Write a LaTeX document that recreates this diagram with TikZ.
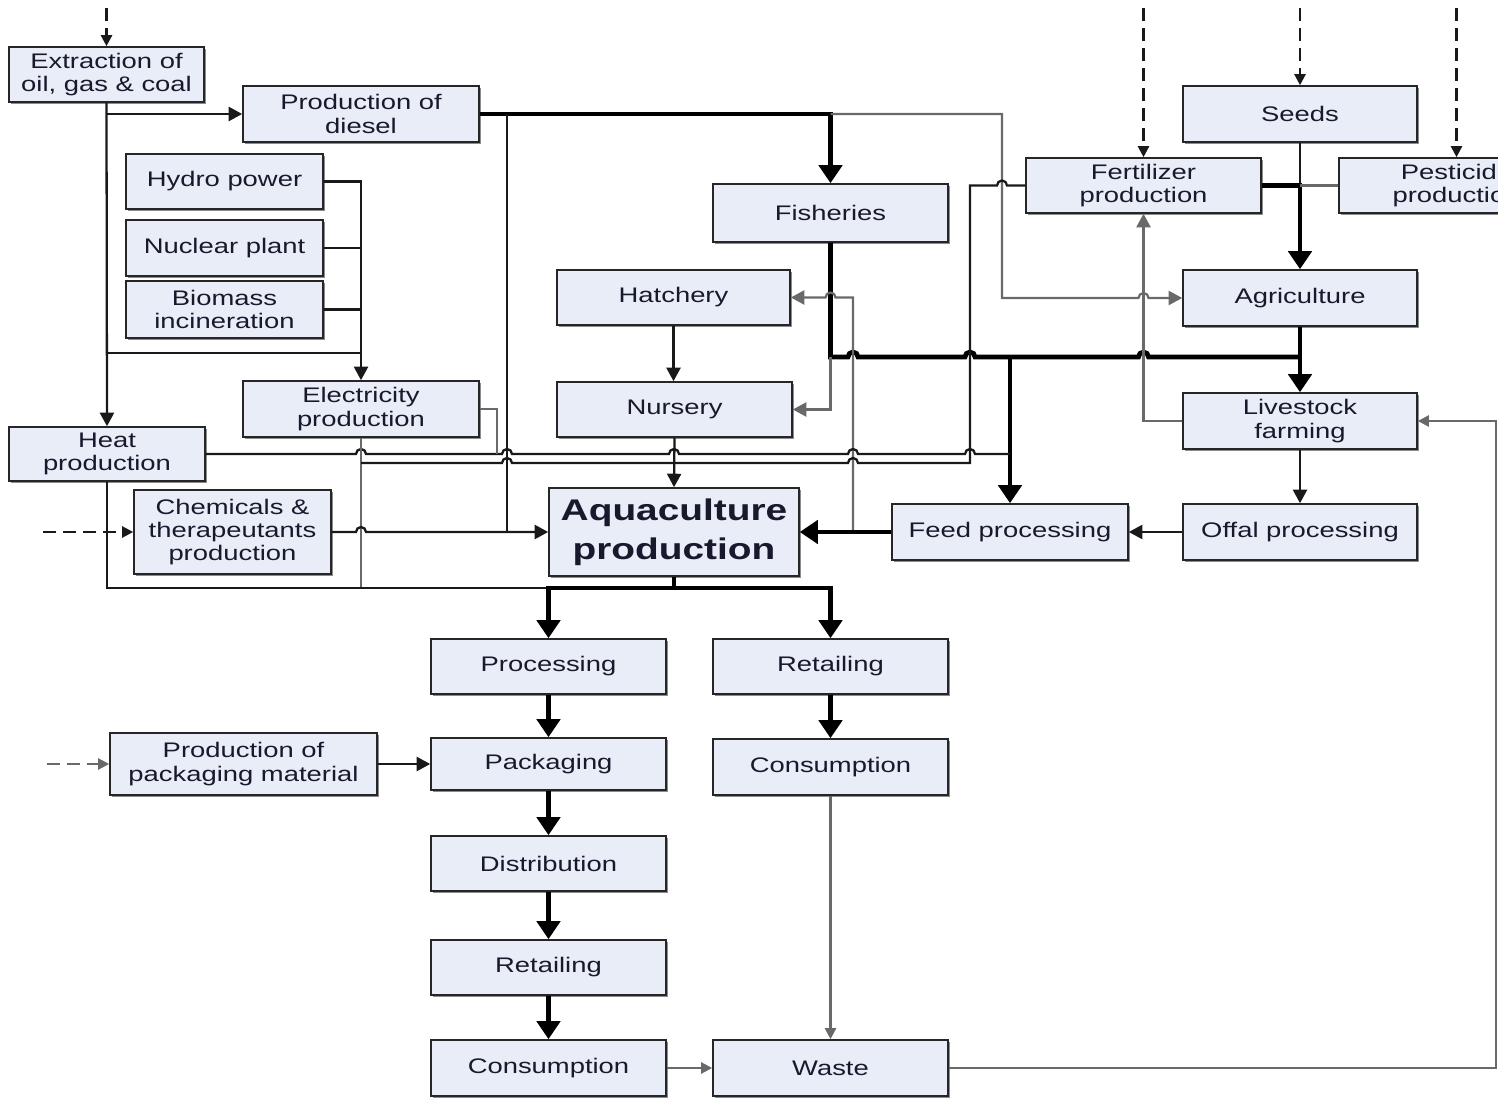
\documentclass[tikz,border=0pt]{standalone}
\usepackage{fontspec}
\setmainfont{Liberation Sans}[FakeStretch=1.3]
\usetikzlibrary{arrows.meta,shadows}
\definecolor{boxfill}{RGB}{232,237,248}
\definecolor{txt}{RGB}{25,25,45}
\definecolor{ln}{RGB}{25,25,25}
\definecolor{gln}{RGB}{105,105,105}
\tikzset{
 box/.style={draw=black!85, line width=0.9pt, fill=boxfill, text=txt, align=center, inner sep=0pt,
   font=\fontsize{12}{13.3}\selectfont,
   drop shadow={shadow xshift=0.045cm, shadow yshift=-0.045cm, fill=black!45, opacity=1}},
 thk/.style={draw=black, line width=2.7pt},
 med/.style={draw=ln, line width=1.3pt},
 thn/.style={draw=gln, line width=1.25pt},
 tA/.style={-{Triangle[length=0.36cm,width=0.46cm]}},
 mA/.style={-{Triangle[length=0.27cm,width=0.28cm]}},
 sA/.style={-{Triangle[length=0.22cm,width=0.22cm]}},
 dsh/.style={dash pattern=on 0.26cm off 0.14cm}
}
\newcommand\bx[7][]{\node[box,#1,minimum width={(#5-#3)*0.02cm},minimum height={(#6-#4)*0.02cm}] (#2) at ({(#3+#5)/2},{(#4+#6)/2}) {#7};}
\newcommand\hr[2]{-- (#1-5,#2) arc[start angle=180,end angle=0,radius=0.1cm]}
\newcommand\hl[2]{-- (#1+5,#2) arc[start angle=0,end angle=180,radius=0.1cm]}
\begin{document}
\begin{tikzpicture}[x=0.02cm,y=-0.02cm]
\useasboundingbox (0,0) rectangle (1498,1098);
\clip (0,0) rectangle (1498,1098);
% boxes
\bx{ext}{9}{47}{204}{102}{Extraction of\\oil, gas \& coal}
\bx{diesel}{243}{86}{479}{142}{Production of\\diesel}
\bx{hydro}{126}{154}{323}{209}{Hydro power}
\bx{nuc}{126}{220}{323}{276}{Nuclear plant}
\bx{bio}{126}{281}{323}{338}{Biomass\\incineration}
\bx{elec}{243}{381}{479}{437}{Electricity\\production}
\bx{heat}{9}{427}{205}{481}{Heat\\production}
\bx{chem}{134}{490}{331}{574}{Chemicals \&\\therapeutants\\production}
\bx{fish}{713}{184}{948}{242}{Fisheries}
\bx{hatch}{557}{270}{790}{325}{Hatchery}
\bx{nurs}{557}{382}{792}{437}{Nursery}
\bx[font={\fontsize{17}{22}\selectfont\bfseries}]{aqua}{549}{488}{799}{576}{Aquaculture\\production}
\bx{feed}{892}{504}{1128}{560}{Feed processing}
\bx{offal}{1183}{504}{1417}{560}{Offal processing}
\bx{seeds}{1183}{86}{1417}{142}{Seeds}
\bx{fert}{1026}{158}{1261}{213}{Fertilizer\\production}
\bx{pest}{1339}{158}{1574}{213}{Pesticide\\production}
\bx{agri}{1183}{270}{1417}{326}{Agriculture}
\bx{live}{1183}{393}{1417}{449}{Livestock\\farming}
\bx{proc}{431}{639}{666}{694}{Processing}
\bx{retR}{713}{639}{948}{694}{Retailing}
\bx{pack}{431}{738}{666}{790}{Packaging}
\bx{consR}{713}{739}{948}{795}{Consumption}
\bx{pkmat}{110}{733}{377}{795}{Production of\\packaging material}
\bx{dist}{431}{836}{666}{891}{Distribution}
\bx{retL}{431}{940}{666}{995}{Retailing}
\bx{consL}{431}{1040}{666}{1096}{Consumption}
\bx{waste}{713}{1040}{948}{1096}{Waste}
% free ends
\coordinate (inExt) at (106.5,8);
\coordinate (inFert) at (1143.5,8);
\coordinate (inSeed) at (1300,8);
\coordinate (inPest) at (1456.5,8);
\coordinate (inChem) at (43,532);
\coordinate (inPk) at (47,764);
% energy
\draw[med,dsh,sA] (inExt) -- (ext.north);
\draw[med,mA] (ext.south) -- (heat.north);
\draw[med,mA] (106.5,114) -- (diesel.west);
\draw[med] (106.5,353) -- (361,353);
\draw[med,mA] (hydro.east) -| (elec.north);
\draw[med] (nuc.east) -- (361,248);
\draw[med] (bio.east) -- (361,309.5);
% diesel
\draw[thk,tA] (diesel.east) -| (fish.north);
\draw[med] (507,114) -- (507,532);
\draw[thn,mA] (830.5,114) -- (1002,114) -- (1002,298) \hr{1143.5}{298} -- (agri.west);
% fisheries & feed lines
\draw[thk] (fish.south) -- (830.5,357) \hr{853}{357} \hr{970}{357} \hr{1143.5}{357} -- (1300,357);
\draw[thk,tA] (1010,357) -- (feed.north);
\draw[thk,tA] (agri.south) -- (live.north);
\draw[thn,mA] (830.5,357) -- (830.5,409.5) -- (nurs.east);
\draw[thn,mA] (853,532) -- (853,297.5) \hl{830.5}{297.5} -- (hatch.east);
\draw[med,mA] (hatch.south) -- (hatch.south |- nurs.north);
\draw[med,mA] (nurs.south) -- (aqua.north);
% heat and electricity distribution
\draw[med] (heat.east) \hr{361}{454} -- (497,454) \hr{507}{454} \hr{674}{454} \hr{853}{454} \hr{970}{454} -- (1010,454);
\draw[thn] (elec.south) -- (361,588);
\draw[thn] (elec.east) -- (497,409) -- (497,454);
\draw[med] (361,463) \hr{507}{463} -- (674,463) \hr{853}{463} -- (970,463) -- (970,185.5) \hr{1002}{185.5} -- (fert.west);
% chemicals
\draw[med,dsh,sA] (inChem) -- (chem.west);
\draw[med,mA] (chem.east) \hr{361}{532} -- (aqua.west);
% bottom of aquaculture
\draw[med] (heat.south) -- (107,588) -- (549,588);
\draw[thk] (aqua.south) -- (674,588);
\draw[thk,tA] (674,588) -| (proc.north);
\draw[thk,tA] (674,588) -| (retR.north);
\draw[thk,tA] (feed.west) -- (aqua.east);
% agriculture side
\draw[med,dsh,sA] (inSeed) -- (seeds.north);
\draw[med,dsh,sA] (inFert) -- (fert.north);
\draw[med,dsh,sA] (inPest) -- (pest.north);
\draw[med] (seeds.south) -- (1300,185.5);
\draw[thk,tA] (fert.east) -| (agri.north);
\draw[thn] (pest.west) -- (1300,185.5);
\draw[thn,mA] (live.west) -- (1143.5,421) -- (fert.south);
\draw[med,mA] (live.south) -- (offal.north);
\draw[med,mA] (offal.west) -- (feed.east);
% chain
\draw[thk,tA] (proc.south) -- (pack.north);
\draw[thk,tA] (pack.south) -- (dist.north);
\draw[thk,tA] (dist.south) -- (retL.north);
\draw[thk,tA] (retL.south) -- (consL.north);
\draw[thk,tA] (retR.south) -- (consR.north);
\draw[med,mA] (pkmat.east) -- (pack.west);
\draw[thn,dsh,sA] (inPk) -- (pkmat.west);
\draw[thn,sA] (consR.south) -- (waste.north);
\draw[thn,sA] (consL.east) -- (waste.west);
\draw[thn,sA] (waste.east) -- (1496,1068) -- (1496,421) -- (live.east);
\end{tikzpicture}
\end{document}
